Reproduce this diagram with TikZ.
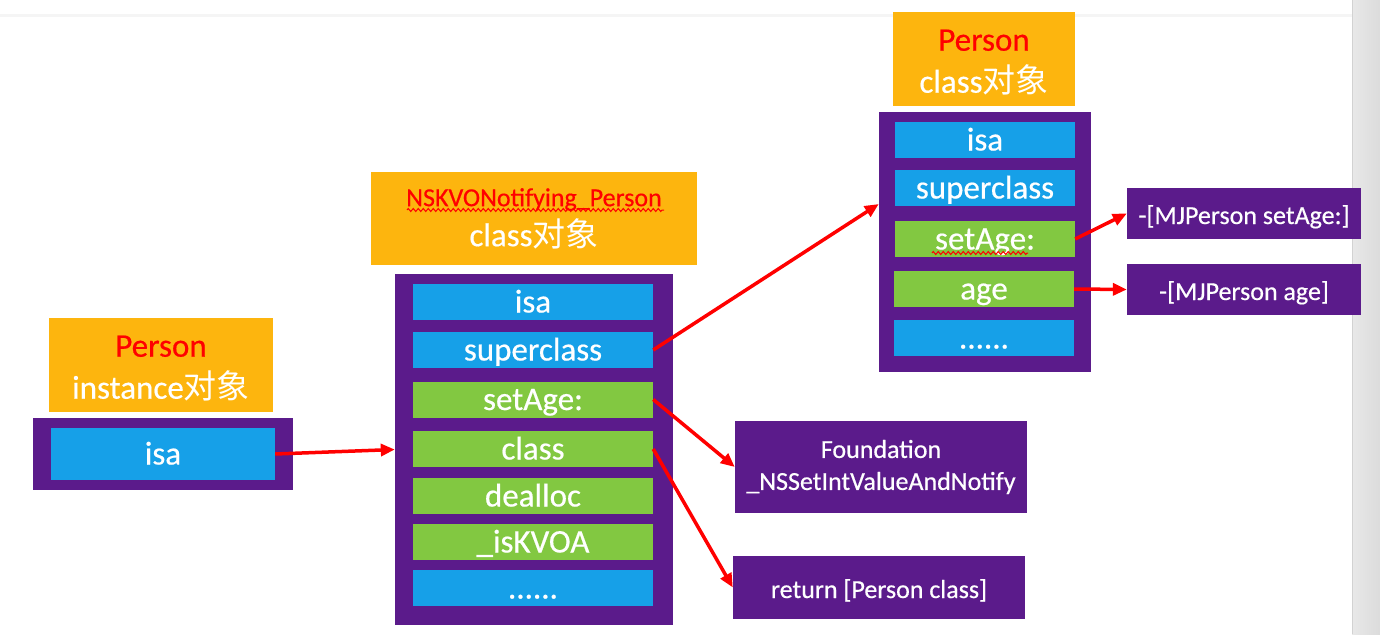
\documentclass[tikz,border=0pt]{standalone}
\usepackage{fontspec}
\setmainfont{Carlito}[RawFeature={embolden=0.5}]
\newfontfamily\cjk{Noto Sans CJK SC}
\usetikzlibrary{positioning,arrows.meta,decorations.pathmorphing}

\definecolor{hdrorange}{RGB}{253,181,14}
\definecolor{objpurple}{RGB}{91,27,139}
\definecolor{slotblue}{RGB}{22,160,232}
\definecolor{slotgreen}{RGB}{130,200,65}

\newcommand{\hdrstrut}{\rule{0pt}{28pt}}

\tikzset{
  hdr/.style={fill=hdrorange, text=white, inner sep=0pt, align=center, font=\fontsize{33}{42}\selectfont},
  objframe/.style={fill=objpurple, inner sep=0pt},
  bslot/.style={fill=slotblue, text=white, inner sep=0pt, text height=26pt, text depth=5pt, font=\fontsize{33}{36}\selectfont},
  gslot/.style={bslot, fill=slotgreen},
  kvoslot/.style={minimum width=240pt, minimum height=36pt},
  clsslot/.style={minimum width=180pt, minimum height=36pt},
  impbox/.style={fill=objpurple, text=white, inner sep=0pt, align=center, minimum width=234pt, font=\fontsize{26}{32}\selectfont},
  oneline/.style={text height=21pt, text depth=0pt},
  ptr/.style={draw=red, line width=3.5pt, -{Triangle[length=14pt,width=12pt]}},
  squiggle/.style={draw=red, line width=1pt, decorate, decoration={zigzag, segment length=5pt, amplitude=1.5pt}}
}

\begin{document}
\begin{tikzpicture}[x=1pt, y=-1pt]
\useasboundingbox (0,0) rectangle (1380,634);
% window chrome
\fill[gray!8] (0,14) rectangle (1352,17);
\shade[left color=gray!18, right color=gray!28] (1352,0) rectangle (1380,634);
\draw[gray!35] (1352,0) -- (1352,634);

% Person instance
\node[hdr, minimum width=224pt, minimum height=94pt] (instHdr) at (161,365) {\hdrstrut\textcolor{red}{Person}\\instance{\cjk 对象}};
\node[objframe, minimum width=260pt, minimum height=72pt] (instFrame) at (163,454) {};
\node[bslot, minimum width=224pt, minimum height=52pt] (instIsa) at (163,454) {isa};

% NSKVONotifying_Person class
\node[hdr, minimum width=326pt, minimum height=93pt] (kvoHdr) at (534,218.5) {{\fontsize{26}{30}\selectfont\textcolor{red}{NSKVONotifying\_Person}}\\[-2pt]class{\cjk 对象}};
\draw[squiggle] (407,210) -- (664,210);
\node[objframe, minimum width=278pt, minimum height=351pt] (kvoFrame) at (534,449.5) {};
\node[bslot, kvoslot] (kvoIsa) at (533,302) {isa};
\node[bslot, kvoslot] (kvoSuper) at (533,350) {superclass};
\node[gslot, kvoslot] (kvoSetAge) at (533,399.5) {setAge:};
\node[gslot, kvoslot] (kvoClass) at (533,449) {class};
\node[gslot, kvoslot] (kvoDealloc) at (533,496) {dealloc};
\node[gslot, kvoslot] (kvoIsKVOA) at (533,542) {\_isKVOA};
\node[bslot, kvoslot] (kvoMore) at (533,588) {......};

% Person class
\node[hdr, minimum width=182pt, minimum height=94pt] (clsHdr) at (984,59) {\hdrstrut\textcolor{red}{Person}\\class{\cjk 对象}};
\node[objframe, minimum width=212pt, minimum height=260pt] (clsFrame) at (985,242) {};
\node[bslot, clsslot] (clsIsa) at (985,140) {isa};
\node[bslot, clsslot] (clsSuper) at (985,188) {superclass};
\node[gslot, clsslot] (clsSetAge) at (985,239) {setAge:};
\draw[squiggle] (932,253) -- (1028,253);
\node[gslot, clsslot] (clsAge) at (984,289) {age};
\node[bslot, clsslot] (clsMore) at (984,338) {......};

% method implementations
\node[impbox, oneline, minimum height=51pt] (mjSetAge) at (1244,213.5) {-[MJPerson setAge:]};
\node[impbox, oneline, minimum height=51pt] (mjAge) at (1244,289.5) {-[MJPerson age]};
\node[impbox, minimum width=292pt, minimum height=92pt] (foundation) at (881,467) {Foundation\\\_NSSetIntValueAndNotify};
\node[impbox, oneline, minimum width=292pt, minimum height=63pt] (retCls) at (879,587.5) {return [Person class]};

% pointers
\draw[ptr] (instIsa.east) -- (kvoFrame.west);
\draw[ptr] (kvoSuper.east) -- ([yshift=38pt]clsFrame.west);
\draw[ptr] (kvoSetAge.east) -- (foundation.west);
\draw[ptr] (kvoClass.east) -- (retCls.west);
\draw[ptr] (clsSetAge.east) -- (mjSetAge.west);
\draw[ptr] (clsAge.east) -- (mjAge.west);
\end{tikzpicture}
\end{document}
